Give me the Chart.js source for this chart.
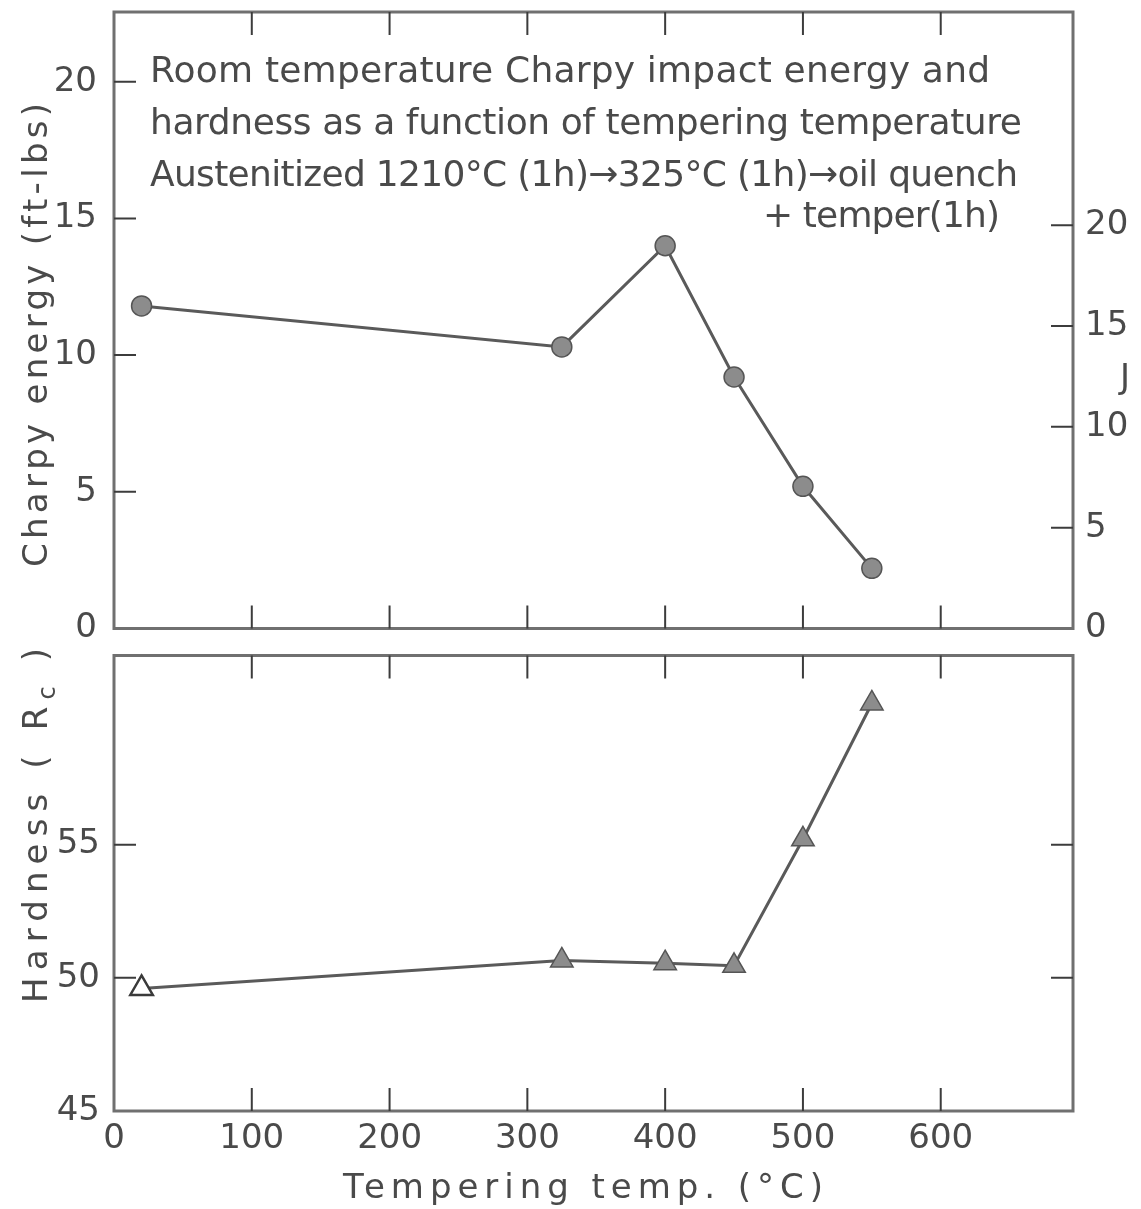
<!DOCTYPE html>
<html>
<head>
<meta charset="utf-8">
<title>Charpy energy and hardness vs tempering temperature</title>
<script src="https://cdn.jsdelivr.net/npm/chart.js@4.4.1/dist/chart.umd.min.js"></script>
<style>
  html, body { margin: 0; padding: 0; background: #fff; }
  #wrap { position: relative; width: 1141px; height: 1209px; background: #fff; }
  #wrap canvas { position: absolute; left: 0; }
  #charpyChart { top: 0; }
  #hardChart { top: 640px; }
</style>
</head>
<body>
<div id="wrap">
  <canvas id="charpyChart" width="1141" height="640"></canvas>
  <canvas id="hardChart" width="1141" height="569"></canvas>
</div>
<script>
"use strict";
// tempering temperatures (°C), first point is the as-quenched room temperature state
const tempC = [20, 325, 400, 450, 500, 550];
const charpyFtLb = [11.8, 10.3, 14.0, 9.2, 5.2, 2.2];
const hardnessRc = [49.6, 50.65, 50.55, 50.45, 55.2, 60.3];

const xTicks = [0, 100, 200, 300, 400, 500, 600];
const charpyTicks = [0, 5, 10, 15, 20];
const jouleTicks = [0, 5, 10, 15, 20];
const hardTicks = [45, 50, 55];
const hardRightTicks = [50, 55];

const noteLines = [
    'Room temperature Charpy impact energy and',
    'hardness as a function of tempering temperature',
    'Austenitized 1210°C (1h)→325°C (1h)→oil quench',
    '+ temper(1h)'
];

const FTLB_TO_J = 1.3558;
const X_MAX = 696;
const CHARPY_MAX = 22.55;
const HARD_MIN = 45;
const HARD_MAX = 62.1;

const FONT = '"DejaVu Sans", "Liberation Sans", sans-serif';
const INK = '#4a4a4a';
const FRAME = '#707070';
const LINE = '#5a5a5a';
const FILL = '#8c8c8c';

// draws text starting at x, stretched to the given width with letter spacing
function spacedText(ctx, text, x, y, width) {
    ctx.letterSpacing = '0px';
    const n = Array.from(text).length;
    const w = ctx.measureText(text).width;
    const gap = n > 1 ? (width - w) / (n - 1) : 0;
    ctx.letterSpacing = gap + 'px';
    ctx.textAlign = 'left';
    ctx.fillText(text, x, y);
    ctx.letterSpacing = '0px';
}

function tickValues(list) {
    return scale => { scale.ticks = list.map(v => ({ value: v })); };
}

// fixed axis size, and no extra room reserved for end labels
function fixWidth(w) {
    return s => { s.width = w; s.paddingTop = 0; s.paddingBottom = 0; };
}
function fixHeight(h) {
    return s => { s.height = h; s.paddingLeft = 0; s.paddingRight = 0; };
}

// box frame with inward tick marks on all four sides
function framePlugin(id, yId, rId, leftTicks, rightTicks, drawText) {
    return {
        id: id,
        beforeDatasetsDraw(chart) {
            const ctx = chart.ctx;
            const a = chart.chartArea;
            const xs = chart.scales.x;
            const ys = chart.scales[yId];
            const rs = chart.scales[rId];
            ctx.save();
            ctx.strokeStyle = FRAME;
            ctx.lineWidth = 3;
            ctx.strokeRect(a.left, a.top, a.right - a.left, a.bottom - a.top);
            ctx.strokeStyle = '#3c3c3c';
            ctx.lineWidth = 2;
            ctx.beginPath();
            xTicks.forEach(v => {
                if (v <= xs.min) return;
                const px = xs.getPixelForValue(v);
                ctx.moveTo(px, a.top);
                ctx.lineTo(px, a.top + 23);
                ctx.moveTo(px, a.bottom);
                ctx.lineTo(px, a.bottom - 23);
            });
            leftTicks.forEach(v => {
                if (v <= ys.min) return;
                const py = ys.getPixelForValue(v);
                ctx.moveTo(a.left, py);
                ctx.lineTo(a.left + 22, py);
            });
            rightTicks.forEach(v => {
                if (v <= rs.min) return;
                const py = rs.getPixelForValue(v);
                ctx.moveTo(a.right, py);
                ctx.lineTo(a.right - 22, py);
            });
            ctx.stroke();
            ctx.restore();
        },
        afterDraw(chart) {
            const ctx = chart.ctx;
            ctx.save();
            ctx.fillStyle = INK;
            ctx.textBaseline = 'alphabetic';
            drawText(ctx, chart);
            ctx.restore();
        }
    };
}

function tickFont() {
    return { family: FONT, size: 34 };
}

const charpyPlugin = framePlugin('charpyFrame', 'y', 'yJ', charpyTicks, jouleTicks, (ctx) => {
    ctx.font = '36px ' + FONT;
    spacedText(ctx, noteLines[0], 150, 82, 840);
    spacedText(ctx, noteLines[1], 150, 134, 872);
    spacedText(ctx, noteLines[2], 150, 186, 868);
    spacedText(ctx, noteLines[3], 763, 227, 237);

    ctx.font = '34px ' + FONT;
    ctx.textAlign = 'center';
    ctx.fillText('J', 1125, 388);

    ctx.translate(35, 335);
    ctx.rotate(-Math.PI / 2);
    ctx.font = '34px ' + FONT;
    spacedText(ctx, 'Charpy energy (ft-lbs)', -232, 12, 464);
});

const hardPlugin = framePlugin('hardFrame', 'y', 'yR', hardTicks, hardRightTicks, (ctx) => {
    ctx.font = '34px ' + FONT;
    spacedText(ctx, 'Tempering temp. (°C)', 343, 558, 480);

    // rotated hardness title with subscript c
    ctx.translate(35, 825 - 640);
    ctx.rotate(-Math.PI / 2);
    const parts = [['Hardness ( R', 34, 0], ['c', 24, 8], [' )', 34, 0]];
    let natural = 0;
    let count = 0;
    parts.forEach(p => {
        ctx.font = p[1] + 'px ' + FONT;
        natural += ctx.measureText(p[0]).width;
        count += p[0].length;
    });
    const gap = (355 - natural) / (count - 1);
    let x = -178;
    parts.forEach(p => {
        ctx.font = p[1] + 'px ' + FONT;
        ctx.letterSpacing = gap + 'px';
        ctx.textAlign = 'left';
        ctx.fillText(p[0], x, 12 + p[2]);
        ctx.letterSpacing = '0px';
        x += ctx.measureText(p[0]).width + gap * p[0].length;
    });
});

const charpyChart = new Chart(document.getElementById('charpyChart'), {
    type: 'line',
    data: {
        datasets: [{
            data: tempC.map((t, i) => ({ x: t, y: charpyFtLb[i] })),
            yAxisID: 'y',
            borderColor: LINE,
            borderWidth: 3,
            tension: 0,
            pointStyle: 'circle',
            pointRadius: 10,
            pointBackgroundColor: FILL,
            pointBorderColor: '#555',
            pointBorderWidth: 1.5
        }]
    },
    options: {
        responsive: false,
        animation: false,
        layout: { padding: { top: 12, left: 0, right: 0, bottom: 0 } },
        plugins: { legend: { display: false }, tooltip: { enabled: false } },
        scales: {
            x: {
                type: 'linear', min: 0, max: X_MAX,
                afterBuildTicks: tickValues(xTicks),
                ticks: { display: false },
                grid: { display: false, drawTicks: false },
                border: { display: false },
                afterFit: fixHeight(9)
            },
            y: {
                position: 'left', min: 0, max: CHARPY_MAX,
                afterBuildTicks: tickValues(charpyTicks),
                ticks: { font: tickFont(), color: INK, padding: 17 },
                grid: { display: false, drawTicks: false },
                border: { display: false },
                afterFit: fixWidth(114)
            },
            yJ: {
                position: 'right', min: 0, max: CHARPY_MAX * FTLB_TO_J,
                afterBuildTicks: tickValues(jouleTicks),
                ticks: { font: tickFont(), color: INK, padding: 12 },
                grid: { display: false, drawTicks: false },
                border: { display: false },
                afterFit: fixWidth(68)
            }
        }
    },
    plugins: [charpyPlugin]
});

const hardChart = new Chart(document.getElementById('hardChart'), {
    type: 'line',
    data: {
        datasets: [{
            data: tempC.map((t, i) => ({ x: t, y: hardnessRc[i] })),
            yAxisID: 'y',
            borderColor: LINE,
            borderWidth: 3,
            tension: 0,
            pointStyle: 'triangle',
            pointRadius: 13,
            pointBackgroundColor: tempC.map((t, i) => i === 0 ? '#fff' : FILL),
            pointBorderColor: tempC.map((t, i) => i === 0 ? '#3a3a3a' : '#555'),
            pointBorderWidth: tempC.map((t, i) => i === 0 ? 2.5 : 1.5)
        }]
    },
    options: {
        responsive: false,
        animation: false,
        layout: { padding: { top: 6, left: 0, right: 0, bottom: 0 } },
        plugins: { legend: { display: false }, tooltip: { enabled: false } },
        scales: {
            x: {
                type: 'linear', min: 0, max: X_MAX,
                afterBuildTicks: tickValues(xTicks),
                ticks: { font: tickFont(), color: INK, padding: 8 },
                grid: { display: false, drawTicks: false },
                border: { display: false },
                afterFit: fixHeight(98)
            },
            y: {
                position: 'left', min: HARD_MIN, max: HARD_MAX,
                afterBuildTicks: tickValues(hardTicks),
                ticks: { font: tickFont(), color: INK, padding: 14 },
                grid: { display: false, drawTicks: false },
                border: { display: false },
                afterFit: fixWidth(114)
            },
            yR: {
                position: 'right', min: HARD_MIN, max: HARD_MAX,
                afterBuildTicks: tickValues(hardRightTicks),
                ticks: { display: false },
                grid: { display: false, drawTicks: false },
                border: { display: false },
                afterFit: fixWidth(68)
            }
        }
    },
    plugins: [hardPlugin]
});
</script>
</body>
</html>
